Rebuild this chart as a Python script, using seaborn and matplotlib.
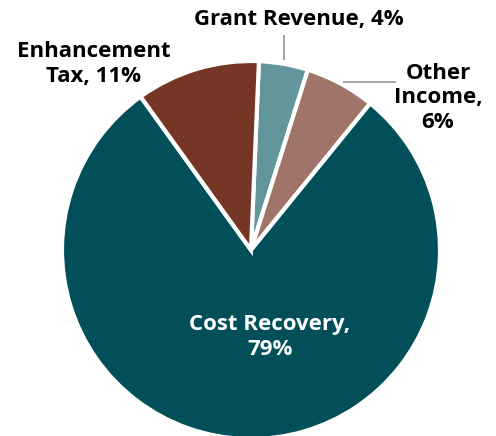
import matplotlib
matplotlib.use("Agg")
import matplotlib.pyplot as plt
import seaborn as sns

# Data (clockwise from near 12 o'clock)
categories = ["Grant Revenue", "Other Income", "Cost Recovery", "Enhancement Tax"]
shares = [4.2, 6.0, 79.2, 10.6]
pct_labels = ["4%", "6%", "79%", "11%"]
colors = ["#63969B", "#A07468", "#004F59", "#753626"]

sns.set_theme(style="white")
plt.rcParams["font.family"] = ["Open Sans", "DejaVu Sans"]

W, H = 496, 436
fig = plt.figure(figsize=(W / 100, H / 100), dpi=100)
ax = fig.add_axes([0, 0, 1, 1])

def Y(y):
    return H - y

ax.pie(shares, colors=sns.color_palette(colors), startangle=87.6, counterclock=False,
       center=(251, Y(250)), radius=189,
       wedgeprops=dict(edgecolor="white", linewidth=3))
ax.set_xlim(0, W)
ax.set_ylim(0, H)
ax.set_aspect("equal")
ax.axis("off")

fs = 16
# leader lines
ax.plot([284, 284], [Y(35), Y(60)], color="#A6A6A6", lw=1.5, solid_capstyle="butt")
ax.plot([343, 396], [Y(82), Y(82)], color="#A6A6A6", lw=1.5, solid_capstyle="butt")

ax.text(299, Y(20), f"{categories[0]}, {pct_labels[0]}", ha="center", va="center",
        fontsize=fs, fontweight="bold", color="black")
ax.text(438, Y(98), f"Other\nIncome,\n{pct_labels[1]}", ha="center", va="center",
        fontsize=fs, fontweight="bold", color="black", linespacing=1.2)
ax.text(270, Y(337), f"{categories[2]},\n{pct_labels[2]}", ha="center", va="center",
        fontsize=fs, fontweight="bold", color="white", linespacing=1.28)
ax.text(94, Y(64), f"Enhancement\nTax, {pct_labels[3]}", ha="center", va="center",
        fontsize=fs, fontweight="bold", color="black", linespacing=1.25)

fig.savefig("out.png", dpi=100)
